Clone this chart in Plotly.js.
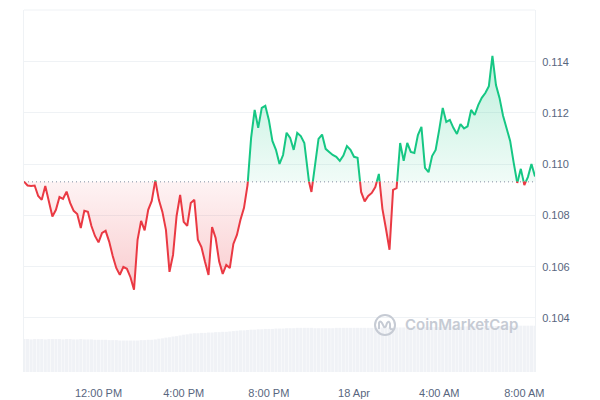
<!DOCTYPE html>
<html>
<head>
<meta charset="utf-8">
<script src="https://cdn.plot.ly/plotly-3.0.1.min.js"></script>
<style>
  html, body { margin: 0; padding: 0; background: #ffffff; }
  #chart { width: 600px; height: 400px; }
</style>
</head>
<body>
<div id="chart"></div>
<script>
// Price, sampled every 10 minutes from 17 Apr 08:30 to 18 Apr 08:30
const prices = [
  0.10932, 0.10917, 0.10915, 0.10917, 0.10876, 0.10861, 0.10915, 0.10859, 0.10796, 0.10822,
  0.10872, 0.10865, 0.10893, 0.10849, 0.10818, 0.10806, 0.10751, 0.10818, 0.10814, 0.10759,
  0.10720, 0.10695, 0.10732, 0.10740, 0.10698, 0.10642, 0.10595, 0.10568, 0.10599, 0.10592,
  0.10559, 0.10510, 0.10705, 0.10779, 0.10742, 0.10822, 0.10857, 0.10937, 0.10861, 0.10814,
  0.10744, 0.10580, 0.10646, 0.10798, 0.10880, 0.10775, 0.10759, 0.10849, 0.10861, 0.10705,
  0.10677, 0.10619, 0.10568, 0.10755, 0.10712, 0.10620, 0.10572, 0.10607, 0.10595, 0.10689,
  0.10724, 0.10783, 0.10830, 0.10919, 0.11103, 0.11212, 0.11142, 0.11220, 0.11228, 0.11173,
  0.11091, 0.11056, 0.11001, 0.11036, 0.11123, 0.11103, 0.11056, 0.11122, 0.11110, 0.11083,
  0.10950, 0.10892, 0.10993, 0.11099, 0.11116, 0.11060, 0.11048, 0.11036, 0.11029, 0.11013,
  0.11034, 0.11071, 0.11056, 0.11029, 0.11025, 0.10892, 0.10855, 0.10876, 0.10888, 0.10911,
  0.10962, 0.10826, 0.10748, 0.10666, 0.10900, 0.10907, 0.11083, 0.11013, 0.11083, 0.11048,
  0.11044, 0.11114, 0.11146, 0.10986, 0.10969, 0.11032, 0.11056, 0.11134, 0.11220, 0.11165,
  0.11173, 0.11142, 0.11118, 0.11157, 0.11140, 0.11148, 0.11212, 0.11192, 0.11231, 0.11259,
  0.11278, 0.11305, 0.11423, 0.11309, 0.11259, 0.11189, 0.11138, 0.11091, 0.11005, 0.10927,
  0.10982, 0.10919, 0.10950, 0.11001, 0.10952
];

// Volume (relative units) for the same 10-minute slots
const volumes = [
  9.1, 9.1, 9.0, 9.1, 9.1, 9.1, 9.0, 9.1, 9.1, 9.1,
  9.1, 9.0, 9.1, 9.1, 9.0, 9.0, 9.1, 9.0, 9.0, 9.0,
  8.9, 8.9, 8.9, 8.9, 8.8, 8.8, 8.8, 8.7, 8.7, 8.7,
  8.7, 8.7, 8.7, 8.8, 8.8, 8.9, 8.9, 9.0, 9.2, 9.3,
  9.5, 9.6, 9.8, 9.9, 10.1, 10.3, 10.4, 10.6, 10.7, 10.7,
  10.8, 10.8, 10.9, 10.9, 11.0, 11.0, 11.1, 11.1, 11.2, 11.3,
  11.4, 11.5, 11.5, 11.6, 11.7, 11.7, 11.8, 11.8, 11.9, 11.9,
  11.9, 12.0, 12.0, 12.0, 12.1, 12.1, 12.1, 12.2, 12.2, 12.2,
  12.2, 12.2, 12.1, 12.1, 12.1, 12.1, 12.1, 12.1, 12.2, 12.2,
  12.2, 12.2, 12.2, 12.2, 12.2, 12.2, 12.2, 12.2, 12.2, 12.2,
  12.3, 12.3, 12.3, 12.3, 12.3, 12.3, 12.3, 12.3, 12.3, 12.3,
  12.3, 12.3, 12.4, 12.4, 12.4, 12.4, 12.4, 12.4, 12.5, 12.5,
  12.5, 12.5, 12.5, 12.5, 12.6, 12.6, 12.6, 12.6, 12.6, 12.6,
  12.7, 12.7, 12.7, 12.7, 12.7, 12.7, 12.7, 12.7, 12.8, 12.8,
  12.8, 12.8, 12.8, 12.8, 12.8
];

const startTime = '2024-04-17 08:30';
const endTime = '2024-04-18 08:30';
const stepMinutes = 10;
const xTickVals = ['2024-04-17 12:00', '2024-04-17 16:00', '2024-04-17 20:00', '2024-04-18 00:00', '2024-04-18 04:00', '2024-04-18 08:00'];
const xTickText = ['12:00 PM', '4:00 PM', '8:00 PM', '18 Apr', '4:00 AM', '8:00 AM'];
const yTickVals = [0.104, 0.106, 0.108, 0.110, 0.112, 0.114];
const yTickText = ['0.104', '0.106', '0.108', '0.110', '0.112', '0.114'];

// ---- derived ----
function toMs(s) {
  const [d, t] = s.split(' ');
  const [Y, M, D] = d.split('-').map(Number);
  const [h, m] = t.split(':').map(Number);
  return Date.UTC(Y, M - 1, D, h, m);
}
function fmt(ms) { return new Date(ms).toISOString().slice(0, 23).replace('T', ' '); }

const t0 = toMs(startTime);
const stepMs = stepMinutes * 60000;
const times = prices.map((_, i) => fmt(t0 + i * stepMs));
const base = prices[0];
const maxP = Math.max(...prices), minP = Math.min(...prices);

// insert baseline crossings
const aug = [];
for (let i = 0; i < prices.length; i++) {
  aug.push({ t: t0 + i * stepMs, v: prices[i] });
  if (i < prices.length - 1 && (prices[i] - base) * (prices[i + 1] - base) < 0) {
    const f = (base - prices[i]) / (prices[i + 1] - prices[i]);
    aug.push({ t: t0 + (i + f) * stepMs, v: base });
  }
}
const augX = aug.map(p => fmt(p.t));
const upper = aug.map(p => Math.max(p.v, base));
const lower = aug.map(p => Math.min(p.v, base));
const above = [];
for (let k = 0; k < aug.length - 1; k++) above.push((aug[k].v + aug[k + 1].v) / 2 >= base);
const greenY = aug.map((p, k) => ((k > 0 && above[k - 1]) || (k < aug.length - 1 && above[k])) ? p.v : null);
const redY = aug.map((p, k) => ((k > 0 && !above[k - 1]) || (k < aug.length - 1 && !above[k])) ? p.v : null);
const baseX = [startTime, endTime];
const baseY = [base, base];

const GREEN = '#16c784', RED = '#ea3943';

const traces = [
  { type: 'bar', x: times, y: volumes, yaxis: 'y2', marker: { color: '#f0f2f6', line: { width: 0 } }, hoverinfo: 'skip' },
  { type: 'scatter', mode: 'lines', x: baseX, y: baseY, line: { width: 0 }, hoverinfo: 'skip' },
  { type: 'scatter', mode: 'lines', x: augX, y: upper, line: { width: 0 }, fill: 'tonexty',
    fillcolor: 'rgba(22,199,132,0.15)',
    fillgradient: { type: 'vertical', colorscale: [[0, 'rgba(22,199,132,0.06)'], [1, 'rgba(22,199,132,0.28)']], start: base, stop: maxP },
    hoverinfo: 'skip' },
  { type: 'scatter', mode: 'lines', x: baseX, y: baseY, line: { width: 0 }, hoverinfo: 'skip' },
  { type: 'scatter', mode: 'lines', x: augX, y: lower, line: { width: 0 }, fill: 'tonexty',
    fillcolor: 'rgba(234,57,67,0.12)',
    fillgradient: { type: 'vertical', colorscale: [[0, 'rgba(234,57,67,0.26)'], [1, 'rgba(234,57,67,0.06)']], start: minP, stop: base },
    hoverinfo: 'skip' },
  { type: 'scatter', mode: 'lines', x: baseX, y: baseY, line: { color: '#aab2bf', width: 1.5, dash: '1px,3px' }, hoverinfo: 'skip' },
  { type: 'scatter', mode: 'lines', x: augX, y: greenY, connectgaps: false, line: { color: GREEN, width: 2 } },
  { type: 'scatter', mode: 'lines', x: augX, y: redY, connectgaps: false, line: { color: RED, width: 2 } }
];

const axisFont = { family: 'Liberation Sans, Arial, sans-serif', size: 11, color: '#58667e' };
const wm = '#c6cbd4';

const layout = {
  width: 600, height: 400,
  margin: { l: 24, r: 65, t: 10, b: 28 },
  paper_bgcolor: '#ffffff', plot_bgcolor: '#ffffff',
  showlegend: false,
  bargap: 0.12,
  xaxis: {
    type: 'date', range: [startTime, endTime],
    tickvals: xTickVals, ticktext: xTickText,
    showgrid: false, zeroline: false, showline: false,
    ticks: 'outside', ticklen: 11, tickcolor: 'rgba(0,0,0,0)',
    tickfont: axisFont
  },
  yaxis: {
    side: 'right', range: [0.10189, 0.11602],
    tickvals: yTickVals, ticktext: yTickText,
    gridcolor: '#eff2f5', gridwidth: 1, zeroline: false,
    showline: true, mirror: true, linecolor: '#eff2f5', linewidth: 1,
    ticks: 'outside', ticklen: 4, tickcolor: 'rgba(0,0,0,0)',
    tickfont: axisFont
  },
  yaxis2: { overlaying: 'y', range: [0, 100], visible: false },
  shapes: [
    { type: 'line', xref: 'paper', yref: 'paper', x0: 0, x1: 1, y0: 1, y1: 1, line: { color: '#eff2f5', width: 1 } },
    { type: 'circle', xref: 'paper', yref: 'paper', xsizemode: 'pixel', ysizemode: 'pixel',
      xanchor: 0.7065, yanchor: 0.13, x0: -10, x1: 10, y0: -10, y1: 10, line: { color: wm, width: 2 } },
    { type: 'path', xref: 'paper', yref: 'paper', xsizemode: 'pixel', ysizemode: 'pixel',
      xanchor: 0.7065, yanchor: 0.13, path: 'M -6,-4 L -6,2 Q -5,5 -3,2 L -1,-2 Q 0,-3 1,-1 L 2,2 Q 4,5 5,1 L 5,-3 Q 6,-5 8,-4', line: { color: wm, width: 2 } }
  ],
  annotations: [
    { xref: 'paper', yref: 'paper', x: 0.742, y: 0.13, xanchor: 'left', yanchor: 'middle',
      text: 'CoinMarketCap', showarrow: false,
      font: { family: 'Inter, Liberation Sans, sans-serif', size: 15, color: wm, weight: 600 } }
  ]
};

Plotly.newPlot('chart', traces, layout, { displayModeBar: false, staticPlot: true });
</script>
</body>
</html>
